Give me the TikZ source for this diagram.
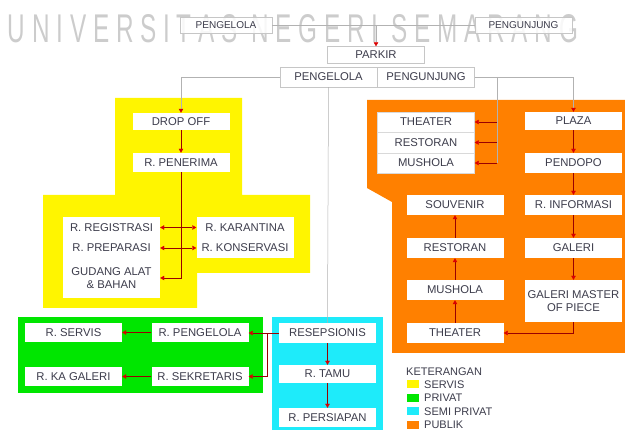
\documentclass[tikz,border=0pt]{standalone}
\usepackage{fontspec}
\setmainfont{Liberation Sans}
\usepackage{graphicx}
\usetikzlibrary{arrows.meta}

\definecolor{servis}{RGB}{255,245,0}
\definecolor{privat}{RGB}{0,230,0}
\definecolor{semiprivat}{RGB}{30,235,250}
\definecolor{publik}{RGB}{255,128,0}
\definecolor{txt}{RGB}{60,60,75}

\begin{document}
\begin{tikzpicture}[
    x=1pt, y=-1pt,
    box/.style={rectangle, fill=white, inner sep=0pt, minimum width=97pt,
                minimum height=19pt, align=center, text=txt,
                font=\fontsize{11.3}{12.5}\selectfont},
    topbox/.style={box, draw=gray!45, fill opacity=0.85, text opacity=1},
    link/.style={-{Triangle[length=4pt, width=4.5pt, color=red!85!black]},
                 draw=red!60!black, line width=0.4pt},
    plain/.style={draw=gray!60, line width=0.5pt},
    key/.style={anchor=west, inner sep=0pt, text=txt,
                font=\fontsize{11}{12}\selectfont},
  ]
  \useasboundingbox (0,0) rectangle (625,430);

  % watermark behind the top row
  \node[inner sep=0pt, text=gray!40] (watermark) at (293,29)
    {\resizebox{570pt}{28pt}{U N I V E R S I T A S\ \ N E G E R I\ \ S E M A R A N G}};

  % zones
  \fill[servis] (115,98) -- (242,98) -- (242,195) -- (310,195) -- (310,273)
    -- (197,273) -- (197,308) -- (43,308) -- (43,195) -- (115,195) -- cycle;
  \fill[publik] (367,100) -- (625,100) -- (625,353) -- (392,353) -- (392,202)
    -- (367,188) -- cycle;
  \fill[privat] (18,317) rectangle (263,393);
  \fill[semiprivat] (272,317) rectangle (383,430);

  % top
  \node[topbox, minimum width=92pt, minimum height=16pt,
        font=\fontsize{10}{12}\selectfont] (topPengelola) at (226,25) {PENGELOLA};
  \node[topbox, minimum height=16pt,
        font=\fontsize{10}{12}\selectfont] (topPengunjung) at (523.5,25) {PENGUNJUNG};
  \node[topbox, minimum height=17pt] (parkir) at (376,55) {PARKIR};
  \node[topbox, minimum height=20pt] (pengelola) at (328.5,77) {PENGELOLA};
  \node[topbox, minimum height=20pt] (pengunjung) at (426,77) {PENGUNJUNG};

  % servis
  \node[box, minimum height=17pt] (dropoff) at (181,121.5) {DROP OFF};
  \node[box] (penerima) at (181,162.5) {R. PENERIMA};
  \node[box, minimum height=21pt] (registrasi) at (111.5,227.5) {R. REGISTRASI};
  \node[box, minimum height=20pt] (preparasi) at (111.5,248) {R. PREPARASI};
  \node[box, minimum height=40pt] (gudang) at (111.5,278) {GUDANG ALAT\\\& BAHAN};
  \node[box, minimum height=21pt] (karantina) at (245,227.5) {R. KARANTINA};
  \node[box, minimum height=20pt] (konservasi) at (245,248) {R. KONSERVASI};

  % publik
  \node[box, draw=gray!30, minimum height=20.5pt] (theaterA) at (426,122) {THEATER};
  \node[box, draw=gray!30, minimum height=20.5pt] (restoranA) at (426,142.5) {RESTORAN};
  \node[box, draw=gray!30, minimum height=20.5pt] (musholaA) at (426,163) {MUSHOLA};
  \node[box, minimum height=18pt] (plaza) at (573.5,121) {PLAZA};
  \node[box, minimum height=20pt] (pendopo) at (573.5,163) {PENDOPO};
  \node[box, minimum height=20pt] (informasi) at (573.5,205) {R. INFORMASI};
  \node[box, minimum height=20pt] (galeri) at (573.5,248) {GALERI};
  \node[box, minimum height=42pt] (master) at (573.5,301) {GALERI MASTER\\OF PIECE};
  \node[box, minimum height=20pt] (souvenir) at (455,205) {SOUVENIR};
  \node[box, minimum height=20pt] (restoranB) at (455,248) {RESTORAN};
  \node[box, minimum height=20pt] (musholaB) at (455,290) {MUSHOLA};
  \node[box, minimum height=20pt] (theaterB) at (455,333) {THEATER};

  % privat
  \node[box] (servisR) at (73.5,332.5) {R. SERVIS};
  \node[box] (kagaleri) at (73.5,376.5) {R. KA GALERI};
  \node[box] (pengelolaR) at (200,332.5) {R. PENGELOLA};
  \node[box] (sekretaris) at (200,376.5) {R. SEKRETARIS};

  % semi privat
  \node[box, minimum height=20pt] (resepsionis) at (327.5,333) {RESEPSIONIS};
  \node[box, minimum height=18pt] (tamu) at (327.5,374) {R. TAMU};
  \node[box] (persiapan) at (327.5,417.5) {R. PERSIAPAN};

  % entrance
  \draw[plain] (topPengelola) -- (topPengunjung);
  \draw[plain, -{Triangle[length=4pt, width=4.5pt, color=red!85!black]}]
    (parkir |- topPengelola) -- (parkir);
  \draw[plain, -{Triangle[length=4pt, width=4.5pt, color=red!85!black]}]
    (pengelola.west) -| (dropoff.north);
  \draw[plain] (pengelola.south) -- (resepsionis.north);
  \draw[plain, -{Triangle[length=4pt, width=4.5pt, color=red!85!black]}]
    (pengunjung.east) -| (plaza.north);
  \coordinate (bus) at (497,77);
  \draw[plain] (bus) -- (bus |- musholaA.east);

  % servis links
  \draw[link] (dropoff) -- (penerima);
  \draw[link] (penerima.south) |- (gudang.east);
  \draw[link] (penerima.south |- registrasi.east) -- (registrasi.east);
  \draw[link] (penerima.south |- preparasi.east) -- (preparasi.east);
  \draw[link] (penerima.south |- karantina.west) -- (karantina.west);
  \draw[link] (penerima.south |- konservasi.west) -- (konservasi.west);

  % publik links
  \draw[link] (bus |- theaterA.east) -- (theaterA.east);
  \draw[link] (bus |- restoranA.east) -- (restoranA.east);
  \draw[link] (bus |- musholaA.east) -- (musholaA.east);
  \draw[link] (plaza) -- (pendopo);
  \draw[link] (pendopo) -- (informasi);
  \draw[link] (informasi) -- (galeri);
  \draw[link] (galeri) -- (master);
  \draw[link] (master.south) |- (theaterB.east);
  \draw[link] (theaterB) -- (musholaB);
  \draw[link] (musholaB) -- (restoranB);
  \draw[link] (restoranB) -- (souvenir);

  % privat and semi privat links
  \coordinate (gbus) at (267,333);
  \draw[link] (resepsionis.west) -- (pengelolaR.east |- resepsionis.west);
  \draw[link] (resepsionis.west) -- (gbus) |- (sekretaris.east);
  \draw[link] (pengelolaR) -- (servisR);
  \draw[link] (sekretaris) -- (kagaleri);
  \draw[link] (resepsionis) -- (tamu);
  \draw[link] (tamu) -- (persiapan);

  % legend
  \node[key] (keterangan) at (406,372) {KETERANGAN};
  \foreach \c/\t [count=\i] in {servis/SERVIS, privat/PRIVAT,
      semiprivat/SEMI PRIVAT, publik/PUBLIK} {
    \fill[\c] (407,376+\i*13.5-9) rectangle ++(12,8);
    \node[key] (key\i) at (424,376+\i*13.5-5) {\t};
  }
\end{tikzpicture}
\end{document}
